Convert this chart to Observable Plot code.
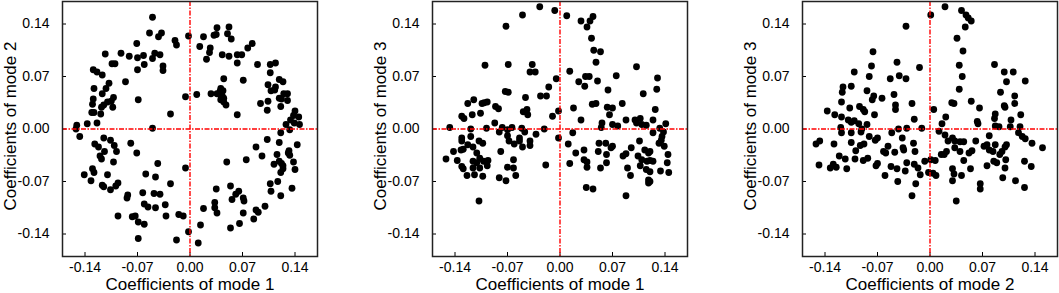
<!DOCTYPE html>
<html>
<head>
<meta charset="utf-8">
<script src="https://cdn.jsdelivr.net/npm/d3@7"></script>
<script src="https://cdn.jsdelivr.net/npm/@observablehq/plot@0.6"></script>
<style>
  html, body { margin: 0; padding: 0; background: #fff; }
  #row { display: flex; flex-direction: row; width: 1059px; height: 293px; }
  #row svg { display: block; overflow: visible; }
</style>
</head>
<body>
<div id="row"></div>
<script>
// ---- data ----
const tickValues = [-0.14, -0.07, 0.00, 0.07, 0.14];
const xTitles = ["Coefficients of mode 1", "Coefficients of mode 1", "Coefficients of mode 2"];
const yTitles = ["Coefficients of mode 2", "Coefficients of mode 3", "Coefficients of mode 3"];

// panel 1: mode 1 (x) vs mode 2 (y)
const panel1X = [-0.050,-0.054,-0.038,-0.042,-0.071,-0.020,-0.018,-0.002,0.018,0.036,0.052,0.032,0.035,0.050,0.055,0.013,0.027,0.026,0.022,0.043,0.052,0.063,0.069,0.077,0.083,0.063,0.090,0.107,0.114,0.107,0.119,0.124,0.104,0.114,0.108,0.113,0.125,0.130,0.119,0.122,0.130,0.104,0.094,0.103,0.121,0.140,0.138,0.145,0.134,0.139,0.146,0.128,0.071,0.045,0.041,0.040,0.044,0.028,0.036,0.040,0.043,0.045,0.041,0.045,0.048,0.063,0.009,-0.006,-0.026,-0.069,-0.086,-0.113,-0.092,-0.081,-0.070,-0.062,-0.061,-0.047,-0.040,-0.050,-0.036,-0.036,-0.070,-0.104,-0.100,-0.129,-0.124,-0.117,-0.108,-0.112,-0.128,-0.117,-0.129,-0.130,-0.115,-0.110,-0.102,-0.105,-0.103,-0.118,-0.131,-0.128,-0.119,-0.124,-0.137,-0.151,-0.152,-0.050,0.133,
 -0.147,-0.127,-0.122,-0.115,-0.106,-0.101,-0.098,-0.114,-0.120,-0.118,-0.102,-0.079,-0.071,-0.141,-0.130,-0.128,-0.132,-0.110,-0.117,-0.115,-0.106,-0.099,-0.096,-0.043,-0.059,-0.046,-0.026,-0.006,-0.083,-0.084,-0.063,-0.048,-0.040,-0.061,-0.056,-0.046,-0.033,-0.096,-0.077,-0.073,-0.069,-0.061,-0.032,-0.015,-0.009,-0.069,-0.018,-0.002,0.011,0.014,0.018,0.033,0.033,0.036,0.035,0.049,0.075,0.054,0.065,0.061,0.056,0.071,0.072,0.071,0.054,0.066,0.085,0.088,0.091,0.100,0.096,0.088,0.103,0.107,0.108,0.117,0.121,0.112,0.116,0.119,0.121,0.121,0.124,0.119,0.122,0.124,0.131,0.132,0.133,0.138,0.140,0.143,0.136];
const panel1Y = [0.149,0.128,0.128,0.123,0.114,0.118,0.112,0.124,0.123,0.135,0.136,0.125,0.126,0.127,0.120,0.110,0.108,0.102,0.093,0.099,0.097,0.099,0.099,0.108,0.114,0.088,0.086,0.086,0.088,0.075,0.066,0.063,0.059,0.056,0.051,0.052,0.047,0.047,0.041,0.040,0.038,0.037,0.034,0.025,0.030,0.024,0.018,0.016,0.012,0.008,0.006,0.006,0.065,0.067,0.054,0.050,0.051,0.047,0.047,0.046,0.044,0.041,0.039,0.036,0.032,0.019,0.046,0.043,0.020,0.039,0.063,0.100,0.101,0.097,0.095,0.098,0.086,0.101,0.099,0.094,0.084,0.078,0.079,0.087,0.087,0.079,0.076,0.072,0.061,0.054,0.054,0.047,0.040,0.033,0.032,0.036,0.042,0.037,0.029,0.029,0.022,0.022,0.020,0.008,0.007,0.005,0.000,0.001,-0.001,
 -0.010,-0.020,-0.024,-0.012,-0.015,-0.022,-0.030,-0.030,-0.036,-0.040,-0.044,-0.019,-0.032,-0.061,-0.053,-0.058,-0.069,-0.061,-0.075,-0.077,-0.081,-0.076,-0.072,-0.046,-0.060,-0.064,-0.073,-0.052,-0.088,-0.092,-0.085,-0.086,-0.087,-0.100,-0.104,-0.105,-0.101,-0.116,-0.117,-0.116,-0.124,-0.127,-0.116,-0.114,-0.116,-0.146,-0.148,-0.137,-0.152,-0.128,-0.106,-0.098,-0.105,-0.112,-0.080,-0.044,-0.041,-0.076,-0.083,-0.087,-0.094,-0.092,-0.096,-0.112,-0.132,-0.126,-0.120,-0.108,-0.111,-0.103,-0.036,-0.024,-0.014,-0.073,-0.083,-0.070,-0.089,-0.047,-0.034,-0.018,-0.005,-0.058,-0.053,-0.043,-0.046,-0.049,-0.032,-0.029,-0.035,-0.044,-0.054,-0.021,-0.079];

// panel 2: mode 1 (x) vs mode 3 (y)
const panel2X = [-0.027,-0.007,-0.050,0.009,-0.072,0.028,0.040,0.044,0.036,0.042,0.045,0.054,0.048,-0.100,-0.069,-0.037,-0.040,-0.033,0.013,0.102,0.075,0.034,0.039,0.025,0.033,0.050,-0.005,0.130,0.129,0.111,0.064,-0.015,-0.073,-0.069,-0.026,-0.018,-0.046,-0.115,-0.097,-0.123,-0.104,-0.101,-0.086,-0.082,-0.106,-0.117,-0.131,-0.128,-0.049,-0.044,-0.043,-0.002,-0.010,0.018,0.043,0.048,0.063,0.070,0.083,0.066,0.028,0.127,0.088,0.100,0.107,0.102,0.109,0.124,0.141,0.070,0.077,0.056,-0.087,-0.147,-0.119,-0.098,-0.077,-0.064,-0.051,-0.021,0.133,0.055,0.115,
 -0.081,-0.070,-0.047,-0.032,-0.002,0.017,-0.131,-0.131,-0.119,-0.108,-0.103,-0.123,-0.116,-0.142,-0.132,-0.129,-0.111,-0.107,-0.152,-0.137,-0.116,-0.111,-0.102,-0.096,-0.097,-0.131,-0.129,-0.116,-0.107,-0.124,-0.114,-0.103,-0.108,-0.070,-0.068,-0.061,-0.054,-0.054,-0.040,-0.050,-0.040,-0.079,-0.062,-0.070,-0.062,-0.081,-0.072,-0.059,-0.019,0.011,0.021,0.032,0.032,0.036,0.036,0.013,0.052,0.061,0.051,0.062,0.068,0.070,0.062,0.054,0.035,0.044,0.084,0.088,0.095,0.106,0.090,0.094,0.104,0.113,0.118,0.120,0.109,0.116,0.120,0.107,0.124,0.115,0.120,0.118,0.120,0.118,0.132,0.135,0.136,0.139,0.124,0.144,0.143,0.134,0.145,0.088,0.138];
const panel2Y = [0.163,0.158,0.152,0.151,0.137,0.144,0.144,0.150,0.136,0.121,0.105,0.103,0.089,0.085,0.086,0.086,0.076,0.076,0.077,0.083,0.071,0.070,0.070,0.063,0.057,0.064,0.067,0.068,0.053,0.047,0.052,0.056,0.050,0.049,0.044,0.044,0.042,0.039,0.036,0.034,0.034,0.035,0.030,0.027,0.021,0.019,0.017,0.014,0.023,0.026,0.019,0.024,0.017,0.028,0.033,0.034,0.029,0.028,0.034,0.019,0.012,0.026,0.012,0.012,0.014,0.008,0.006,0.012,0.007,0.006,0.004,0.008,0.008,0.002,0.000,0.001,0.002,0.002,0.001,0.000,0.001,0.002,0.005,
 -0.004,-0.001,-0.004,-0.007,-0.012,-0.005,-0.012,-0.016,-0.010,-0.016,-0.019,-0.021,-0.024,-0.030,-0.028,-0.027,-0.032,-0.039,-0.040,-0.042,-0.043,-0.045,-0.043,-0.042,-0.049,-0.050,-0.053,-0.052,-0.052,-0.062,-0.061,-0.063,-0.096,-0.009,-0.016,-0.020,-0.012,-0.016,-0.016,-0.024,-0.022,-0.030,-0.041,-0.051,-0.052,-0.065,-0.069,-0.062,-0.048,-0.020,-0.032,-0.028,-0.041,-0.044,-0.051,-0.046,-0.019,-0.019,-0.030,-0.034,-0.025,-0.023,-0.045,-0.052,-0.078,-0.080,-0.036,-0.033,-0.025,-0.016,-0.052,-0.062,-0.036,-0.028,-0.032,-0.030,-0.041,-0.043,-0.042,-0.049,-0.043,-0.054,-0.057,-0.068,-0.070,-0.072,-0.019,-0.015,-0.010,-0.023,-0.005,-0.034,-0.045,-0.056,-0.058,-0.089,-0.004];

// panel 3: mode 2 (x) vs mode 3 (y)
const panel3X = [0.020,0.042,0.001,0.048,0.051,0.055,0.047,-0.032,0.036,0.044,-0.076,-0.078,-0.044,-0.101,-0.081,-0.041,-0.032,-0.053,-0.014,0.039,0.043,0.039,0.086,0.099,0.111,0.102,0.127,0.094,0.113,0.113,0.099,0.100,0.121,0.108,0.087,0.086,-0.116,-0.105,-0.117,-0.084,-0.075,-0.077,-0.064,-0.048,-0.046,-0.046,-0.118,-0.107,-0.094,-0.089,-0.087,-0.074,-0.137,-0.127,-0.118,-0.109,-0.105,-0.101,-0.095,-0.084,-0.119,-0.024,-0.021,0.029,0.032,0.055,0.066,0.005,0.021,0.016,0.063,0.064,0.087,0.092,0.107,0.120,-0.031,-0.011,-0.042,-0.091,
 -0.152,-0.147,-0.128,-0.118,-0.105,-0.092,-0.105,-0.099,-0.093,-0.088,-0.081,-0.070,-0.073,-0.051,-0.037,-0.148,-0.133,-0.129,-0.125,-0.121,-0.113,-0.111,-0.100,-0.089,-0.083,-0.072,-0.070,-0.062,-0.059,-0.056,-0.047,-0.036,-0.035,-0.022,-0.020,-0.052,-0.044,-0.060,-0.043,-0.031,-0.033,-0.021,-0.016,-0.013,-0.019,-0.024,-0.007,0.001,0.007,-0.002,0.004,0.008,0.012,0.020,0.030,0.024,0.033,0.040,0.045,0.033,0.040,0.022,0.015,0.019,0.045,0.030,0.032,0.030,0.042,0.035,0.052,0.056,0.061,0.054,0.067,0.067,0.072,0.076,0.079,0.079,0.084,0.087,0.093,0.096,0.100,0.102,0.085,0.089,0.101,0.100,0.076,0.097,0.114,0.126,0.126,0.135,0.118,0.123,0.127,0.136,0.150];
const panel3Y = [0.163,0.158,0.152,0.152,0.148,0.144,0.136,0.137,0.121,0.104,0.103,0.084,0.089,0.076,0.070,0.071,0.067,0.067,0.082,0.085,0.070,0.053,0.086,0.076,0.076,0.063,0.064,0.049,0.044,0.034,0.031,0.029,0.019,0.012,0.020,0.014,0.056,0.057,0.049,0.051,0.044,0.039,0.041,0.046,0.032,0.026,0.036,0.028,0.030,0.026,0.023,0.019,0.024,0.019,0.016,0.012,0.009,0.011,0.007,0.006,0.002,0.034,0.013,0.035,0.034,0.037,0.028,0.026,0.016,0.007,0.010,0.007,0.004,0.003,0.003,0.003,0.001,0.001,0.000,0.000,
 -0.020,-0.016,-0.020,-0.005,-0.005,-0.004,-0.018,-0.029,-0.022,-0.020,-0.010,-0.012,-0.015,-0.005,-0.012,-0.048,-0.052,-0.047,-0.051,-0.036,-0.040,-0.053,-0.040,-0.042,-0.039,-0.049,-0.046,-0.030,-0.032,-0.023,-0.031,-0.025,-0.028,-0.019,-0.030,-0.050,-0.053,-0.062,-0.070,-0.045,-0.056,-0.047,-0.052,-0.061,-0.073,-0.089,-0.043,-0.041,-0.042,-0.058,-0.059,-0.062,-0.003,-0.008,-0.012,-0.016,-0.016,-0.017,-0.017,-0.025,-0.030,-0.030,-0.034,-0.034,-0.042,-0.053,-0.060,-0.069,-0.062,-0.096,-0.032,-0.029,-0.016,-0.053,-0.073,-0.080,-0.023,-0.021,-0.009,-0.028,-0.030,-0.021,-0.034,-0.030,-0.024,-0.021,-0.043,-0.045,-0.041,-0.052,-0.049,-0.065,-0.069,-0.078,-0.043,-0.050,-0.005,-0.010,-0.013,-0.019,-0.025];

const panelXs = [panel1X, panel2X, panel3X];
const panelYs = [panel1Y, panel2Y, panel3Y];

// ---- layout ----
const widths = [362, 370, 327];
const marginLefts = [62, 70, 70];
const marginRights = [45, 45, 2];
const fmt = d => d.toFixed(2);

const row = document.getElementById("row");
for (let i = 0; i < 3; i++) {
  const pts = panelXs[i].map((x, j) => ({x, y: panelYs[i][j]}));
  const chart = Plot.plot({
    width: widths[i],
    height: 293,
    marginLeft: marginLefts[i],
    marginRight: marginRights[i],
    marginTop: 1,
    marginBottom: 37,
    style: {fontFamily: "'Liberation Sans', Arial, Helvetica, sans-serif", fontSize: "14px", color: "#000", background: "#fff"},
    x: {domain: [-0.17, 0.17], ticks: tickValues, tickFormat: fmt, tickSize: -4, tickPadding: 10, label: null},
    y: {domain: [-0.17, 0.17], ticks: tickValues, tickFormat: fmt, tickSize: -4, tickPadding: 17, label: null},
    marks: [
      Plot.dot(pts, {x: "x", y: "y", r: 3.4, fill: "#000", stroke: "none"}),
      Plot.ruleX([0], {stroke: "#ff0000", strokeWidth: 1.4, strokeDasharray: "5,1.5,1.5,1.5"}),
      Plot.ruleY([0], {stroke: "#ff0000", strokeWidth: 1.4, strokeDasharray: "5,1.5,1.5,1.5"}),
      Plot.frame({stroke: "#222", strokeWidth: 1.5}),
      Plot.text([xTitles[i]], {frameAnchor: "bottom", lineAnchor: "middle", textAnchor: "middle", dy: 28.5, fontSize: 17, fill: "#000"}),
      Plot.text([yTitles[i]], {frameAnchor: "left", textAnchor: "middle", lineAnchor: "middle", dx: -52, dy: -3, rotate: -90, fontSize: 17, fill: "#000"})
    ]
  });
  row.appendChild(chart);
}
</script>
</body>
</html>
